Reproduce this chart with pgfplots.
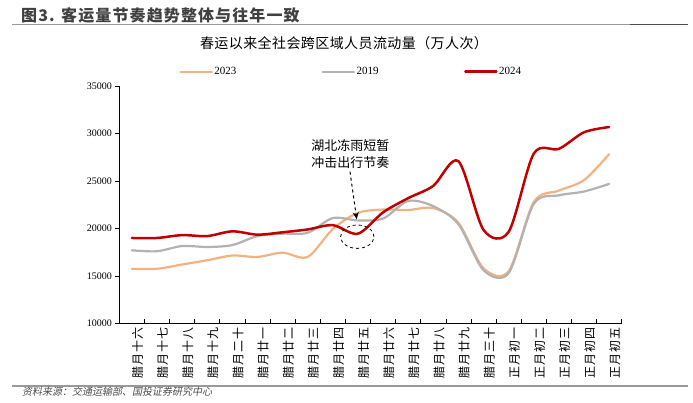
\documentclass[border=0pt]{standalone}
\usepackage{fontspec}
\usepackage{pgfplots}
\pgfplotsset{compat=1.18}
\usetikzlibrary{arrows.meta}
\setmainfont{Liberation Serif}
\newfontfamily\cjk{Noto Sans CJK SC}
\newfontfamily\cjktitle[LetterSpace=7]{Noto Sans CJK SC}
\newfontfamily\cjkct[LetterSpace=3]{Noto Sans CJK SC}
\newfontfamily\cjkx[LetterSpace=8]{Noto Sans CJK SC}
\newfontfamily\cjkit[FakeSlant=0.2]{Noto Sans CJK SC}
\definecolor{c23}{HTML}{F4B183}
\definecolor{c19}{HTML}{B2B2B2}
\definecolor{c24}{HTML}{C00000}
\definecolor{ttl}{HTML}{404040}
\begin{document}
\begin{tikzpicture}[x=1pt,y=1pt]
\useasboundingbox (0,0) rectangle (693,403);
% header
\node[anchor=west, text=ttl, inner sep=0pt] at (21,388) {\cjktitle\bfseries\fontsize{16}{16}\selectfont 图3. 客运量节奏趋势整体与往年一致};
\draw[color=black!40, line width=1pt] (12,378) -- (688,378);
\draw[color=black!70, line width=1pt] (630,378) -- (688,378);
\node[inner sep=0pt] at (344,360) {\cjkct\fontsize{14}{14}\selectfont 春运以来全社会跨区域人员流动量（万人次）};
\begin{axis}[
  at={(119.3pt,79.7pt)}, anchor=south west,
  scale only axis, width=502.4pt, height=237pt,
  xmin=-0.5, xmax=19.5, ymin=10000, ymax=35000,
  axis lines=left,
  axis line style={-, black, line width=0.8pt},
  tick align=outside,
  major tick length=4pt,
  tick style={black, line width=0.6pt},
  xtick style={yshift=4pt},
  xtick={-0.5,0.5,...,19.5},
  x tick label as interval,
  xticklabels={腊月十六,腊月十七,腊月十八,腊月十九,腊月二十,腊月廿一,腊月廿二,腊月廿三,腊月廿四,腊月廿五,腊月廿六,腊月廿七,腊月廿八,腊月廿九,腊月三十,正月初一,正月初二,正月初三,正月初四,正月初五},
  xticklabel style={rotate=90, anchor=east, inner sep=0pt, yshift=-5.7pt, font=\cjkx\fontsize{12}{12}\selectfont},
  ytick={10000,15000,...,35000},
  scaled y ticks=false,
  yticklabel style={font=\fontsize{10}{10}\selectfont},
  /pgf/number format/.cd, assume math mode=true, 1000 sep={},
  /pgfplots/.cd,
  legend columns=3,
  legend style={draw=none, fill=none, at={(0.1198,1.0616)}, anchor=west, inner sep=0pt,
    font=\fontsize{11}{11}\selectfont,
    nodes={inner sep=1.5pt},
    /tikz/every even column/.append style={column sep=84pt}},
  legend image code/.code={\draw[#1] (0pt,0pt) -- (31pt,0pt);},
  every axis plot/.append style={smooth, tension=0.5, line width=2.2pt, line cap=round},
]
\addplot[c23] coordinates {(0,15750) (1,15750) (2,16200) (3,16650) (4,17150) (5,17000) (6,17450) (7,17000) (8,19950) (9,21650) (10,22000) (11,21950) (12,22150) (13,20600) (14,15800) (15,15500) (16,22800) (17,24000) (18,25100) (19,27850)};
\addlegendentry{2023}
\addplot[c19] coordinates {(0,17700) (1,17600) (2,18150) (3,18050) (4,18250) (5,19200) (6,19450) (7,19550) (8,21100) (9,20850) (10,21050) (11,22900) (12,22350) (13,20450) (14,15600) (15,15300) (16,22600) (17,23500) (18,23900) (19,24700)};
\addlegendentry{2019}
\addplot[c24, line width=2.5pt] coordinates {(0,19000) (1,19000) (2,19300) (3,19200) (4,19700) (5,19350) (6,19600) (7,19900) (8,20350) (9,19450) (10,21700) (11,23200) (12,24500) (13,27100) (14,19850) (15,19650) (16,27900) (17,28400) (18,30150) (19,30700)};
\addlegendentry{2024}
\end{axis}
% annotation
\node[align=center, inner sep=0pt, font=\cjk\fontsize{13}{17.7}\selectfont] at (350.4,249.1) {湖北冻雨短暂\\冲击出行节奏};
\draw[dashed, line width=1pt, -{Stealth[length=7pt,width=6pt]}] (350,231.3) -- (356.7,183.7);
\draw[dashed, line width=0.8pt] (357.3,166.3) ellipse [x radius=16.7, y radius=11.7];
% footer
\draw[color=black!40, line width=1.5pt] (12,17) -- (688,17);
\node[anchor=west, inner sep=0pt, text=black!70] at (22,11) {\cjkit\fontsize{10}{10}\selectfont 资料来源：交通运输部、国投证券研究中心};
\end{tikzpicture}
\end{document}
